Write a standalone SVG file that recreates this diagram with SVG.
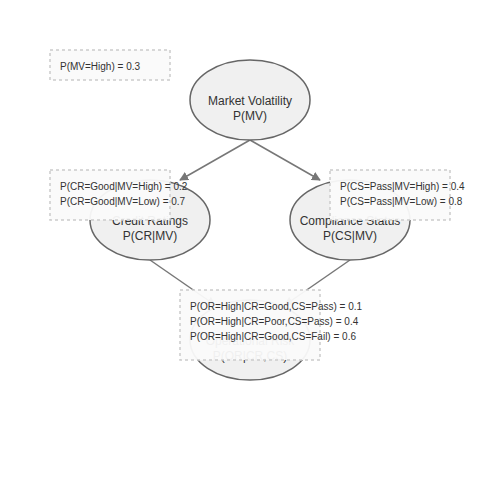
<svg xmlns="http://www.w3.org/2000/svg" width="500" height="500" viewBox="0 0 500 500">
<style>
.node ellipse{fill:#f0f0f0;stroke:#666;stroke-width:1.5}
.node text{font-family:"Liberation Sans",Arial,sans-serif;font-size:12px;fill:#333;text-anchor:middle}
.edge{stroke:#777;stroke-width:1.5;fill:none}
.tbl rect{fill:#fafafa;fill-opacity:0.95;stroke:#ccc;stroke-width:1.5;stroke-dasharray:3,3}
.tbl text{font-family:"Liberation Sans",Arial,sans-serif;font-size:10px;fill:#333}
</style>
<defs>
<marker id="arr" viewBox="0 0 10 10" refX="9" refY="5" markerWidth="6" markerHeight="6" orient="auto">
<path d="M0,0L10,5L0,10z" fill="#777"/>
</marker>
</defs>
<rect width="500" height="500" fill="#fff"/>
<g id="connectors">
<line class="edge" x1="250" y1="140" x2="180" y2="180" marker-end="url(#arr)"/>
<line class="edge" x1="250" y1="140" x2="320" y2="180" marker-end="url(#arr)"/>
<line class="edge" x1="150" y1="260" x2="215" y2="305" marker-end="url(#arr)"/>
<line class="edge" x1="350" y1="260" x2="285" y2="305" marker-end="url(#arr)"/>
</g>
<g id="node-mv" class="node">
<ellipse cx="250" cy="100" rx="60" ry="40"/>
<text x="250" y="105">Market Volatility</text>
<text x="250" y="120">P(MV)</text>
</g>
<g id="node-cr" class="node">
<ellipse cx="150" cy="220" rx="60" ry="40"/>
<text x="150" y="225">Credit Ratings</text>
<text x="150" y="240">P(CR|MV)</text>
</g>
<g id="node-cs" class="node">
<ellipse cx="350" cy="220" rx="60" ry="40"/>
<text x="350" y="225">Compliance Status</text>
<text x="350" y="240">P(CS|MV)</text>
</g>
<g id="node-or" class="node">
<ellipse cx="250" cy="340" rx="60" ry="40"/>
<text x="250" y="345">Operational Risk</text>
<text x="250" y="360">P(OR|CR,CS)</text>
</g>
<g id="table-mv" class="tbl">
<rect x="50" y="50" width="120" height="30"/>
<text x="60" y="70">P(MV=High) = 0.3</text>
</g>
<g id="table-cr" class="tbl">
<rect x="50" y="170" width="120" height="50"/>
<text x="60" y="190">P(CR=Good|MV=High) = 0.2</text>
<text x="60" y="205">P(CR=Good|MV=Low) = 0.7</text>
</g>
<g id="table-cs" class="tbl">
<rect x="330" y="170" width="120" height="50"/>
<text x="340" y="190">P(CS=Pass|MV=High) = 0.4</text>
<text x="340" y="205">P(CS=Pass|MV=Low) = 0.8</text>
</g>
<g id="table-or" class="tbl">
<rect x="180" y="290" width="140" height="70"/>
<text x="190" y="310">P(OR=High|CR=Good,CS=Pass) = 0.1</text>
<text x="190" y="325">P(OR=High|CR=Poor,CS=Pass) = 0.4</text>
<text x="190" y="340">P(OR=High|CR=Good,CS=Fail) = 0.6</text>
</g>
</svg>
